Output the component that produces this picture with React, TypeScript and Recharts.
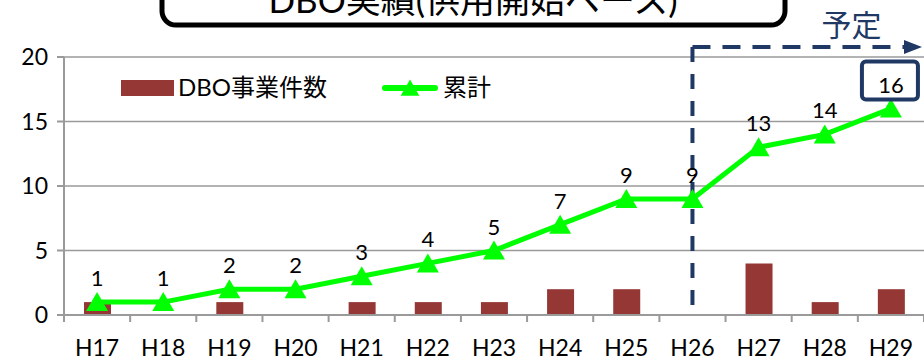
import {
    ComposedChart,
    Bar,
    Line,
    XAxis,
    YAxis,
    CartesianGrid,
    ReferenceLine,
    LabelList,
    Legend,
} from 'recharts';

const years = ['H17', 'H18', 'H19', 'H20', 'H21', 'H22', 'H23', 'H24', 'H25', 'H26', 'H27', 'H28', 'H29'];
const projectCounts = [1, 0, 1, 0, 1, 1, 1, 2, 2, 0, 4, 1, 2];
const cumulativeCounts = [1, 1, 2, 2, 3, 4, 5, 7, 9, 9, 13, 14, 16];
const yTicks = [0, 5, 10, 15, 20];
const seriesNames = ['DBO事業件数', '累計'];
const titleText = 'DBO実績(供用開始ベース)';
const planText = '予定';
const planStart = 'H26';

const data = years.map((year, i) => ({
    year,
    projects: projectCounts[i],
    cumulative: cumulativeCounts[i],
}));

const W = 924;
const H = 361;
const PLOT_LEFT = 64;
const PLOT_BOTTOM = 315;
const BAND = (W - PLOT_LEFT) / years.length;
const NAVY = '#1F3864';
const BAR_COLOR = '#953735';
const LINE_COLOR = '#00FF00';
const AXIS_COLOR = '#9a9a9a';
const FONT = "Lato, 'Noto Sans CJK JP', sans-serif";

const Triangle = ({ cx, cy, size = 1 }: any) => {
    if (cx == null || cy == null) return null;
    const hw = 11 * size;
    return (
        <polygon
            points={`${cx},${cy - 10 * size} ${cx + hw},${cy + 9 * size} ${cx - hw},${cy + 9 * size}`}
            fill={LINE_COLOR}
        />
    );
};

// category labels with tick marks on the band boundaries
const XTick = ({ x, y, payload, index }: any) => {
    const half = BAND / 2;
    return (
        <g>
            <line x1={x - half} y1={y} x2={x - half} y2={y + 7} stroke={AXIS_COLOR} strokeWidth={2} />
            {index === years.length - 1 && (
                <line x1={x + half} y1={y} x2={x + half} y2={y + 7} stroke={AXIS_COLOR} strokeWidth={2} />
            )}
            <text x={x} y={y + 41} textAnchor="middle" fontSize={23} fill="#000" fontFamily={FONT}>
                {payload.value}
            </text>
        </g>
    );
};

const PointLabel = ({ x, y, value, index }: any) => {
    const last = index === cumulativeCounts.length - 1;
    return (
        <g>
            {last && (
                <rect x={x - 29} y={y - 47} width={56} height={38} rx={4} fill="none" stroke={NAVY} strokeWidth={4} />
            )}
            <text x={x} y={y - 16} textAnchor="middle" fontSize={22} fill="#000" fontFamily={FONT}>
                {value}
            </text>
        </g>
    );
};

const PlanMarker = ({ x1 }: any) => {
    const arrowY = 47;
    const endX = W - 2;
    return (
        <g>
            <line x1={x1} y1={arrowY} x2={x1} y2={PLOT_BOTTOM} stroke={NAVY} strokeWidth={4} strokeDasharray="15 12" />
            <line x1={x1} y1={arrowY} x2={endX - 16} y2={arrowY} stroke={NAVY} strokeWidth={4} strokeDasharray="18 12" />
            <polygon points={`${endX - 18},${arrowY - 7} ${endX},${arrowY} ${endX - 18},${arrowY + 7}`} fill={NAVY} />
            <text x={x1 + 159} y={36} textAnchor="middle" fontSize={30} fill={NAVY} fontFamily={FONT}>
                {planText}
            </text>
        </g>
    );
};

const LegendContent = () => (
    <div style={{ position: 'relative', height: 28, fontFamily: FONT, fontSize: 24, color: '#000' }}>
        <span style={{ position: 'absolute', left: 0, top: 6, width: 53, height: 16, background: BAR_COLOR }} />
        <span style={{ position: 'absolute', left: 57, top: -3, whiteSpace: 'nowrap', lineHeight: '32px' }}>
            {seriesNames[0]}
        </span>
        <svg style={{ position: 'absolute', left: 261, top: 0 }} width={56} height={28}>
            <line x1={3} y1={14} x2={53} y2={14} stroke={LINE_COLOR} strokeWidth={6} strokeLinecap="round" />
            <Triangle cx={28} cy={14} size={0.85} />
        </svg>
        <span style={{ position: 'absolute', left: 322, top: -3, whiteSpace: 'nowrap', lineHeight: '32px' }}>
            {seriesNames[1]}
        </span>
    </div>
);

export default function App() {
    return (
        <div style={{ position: 'absolute', left: 0, top: 0, width: W, height: H, background: '#fff', overflow: 'hidden' }}>
            <ComposedChart width={W} height={H} data={data} margin={{ top: 57, right: 0, bottom: 0, left: 0 }}>
                <CartesianGrid vertical={false} stroke={AXIS_COLOR} strokeWidth={1.5} />
                <XAxis
                    dataKey="year"
                    height={46}
                    interval={0}
                    stroke={AXIS_COLOR}
                    strokeWidth={2}
                    tickLine={false}
                    tickSize={0}
                    tickMargin={0}
                    tick={<XTick />}
                />
                <YAxis
                    domain={[0, 20]}
                    ticks={yTicks}
                    width={PLOT_LEFT}
                    stroke={AXIS_COLOR}
                    strokeWidth={2}
                    tickSize={7}
                    tickMargin={9}
                    tick={{ fill: '#000', fontSize: 23, fontFamily: FONT }}
                />
                <Legend
                    layout="horizontal"
                    verticalAlign="middle"
                    align="center"
                    content={<LegendContent />}
                    wrapperStyle={{ top: 74, left: 121, width: 420 }}
                />
                <Bar dataKey="projects" name={seriesNames[0]} fill={BAR_COLOR} barSize={27} isAnimationActive={false} />
                <ReferenceLine x={planStart} shape={<PlanMarker />} />
                <Line
                    type="linear"
                    dataKey="cumulative"
                    name={seriesNames[1]}
                    stroke={LINE_COLOR}
                    strokeWidth={5}
                    dot={<Triangle />}
                    activeDot={false}
                    isAnimationActive={false}
                >
                    <LabelList dataKey="cumulative" content={<PointLabel />} />
                </Line>
            </ComposedChart>
            <svg
                width={W}
                height={H}
                style={{ position: 'absolute', left: 0, top: 0, pointerEvents: 'none' }}
            >
                <rect x={162} y={-40} width={623} height={65} rx={14} fill="#fff" stroke="#000" strokeWidth={5} />
                <text x={473} y={13} textAnchor="middle" fontSize={35} fill="#000" fontFamily={FONT}>
                    {titleText}
                </text>
            </svg>
        </div>
    );
}
